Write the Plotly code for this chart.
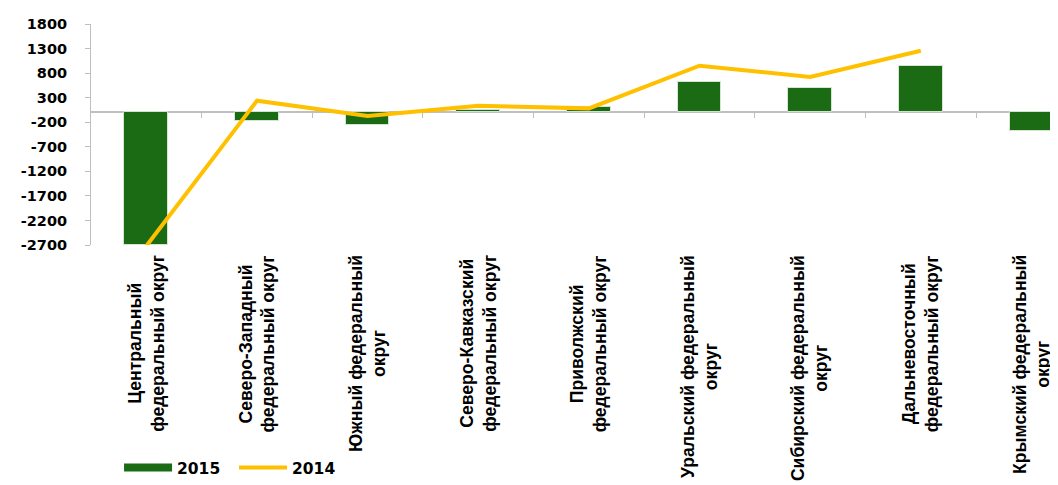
import plotly.graph_objects as go

categories = [
    "Центральный<br>федеральный округ",
    "Северо-Западный<br>федеральный округ",
    "Южный федеральный<br>округ",
    "Северо-Кавказский<br>федеральный округ",
    "Приволжский<br>федеральный округ",
    "Уральский федеральный<br>округ",
    "Сибирский федеральный<br>округ",
    "Дальневосточный<br>федеральный округ",
    "Крымский федеральный<br>округ",
]
values_2015 = [-2700, -169, -263, 43, 104, 625, 491, 945, -372]
values_2014 = [-2720, 238, -73, 136, 82, 951, 721, 1256, None]
y_ticks = [1800, 1300, 800, 300, -200, -700, -1200, -1700, -2200, -2700]

GREEN = "#1a6b14"
GOLD = "#FFC000"
GRAY = "#bfbfbf"

xs = list(range(len(categories)))

fig = go.Figure()
fig.add_trace(go.Bar(
    x=xs, y=values_2015, name="2015", width=0.395,
    marker=dict(color=GREEN, line=dict(color="rgba(220,235,220,0.9)", width=1)),
    showlegend=False, legendgroup="2015", hoverinfo="skip",
))
# legend entry for 2015 (wide swatch like the original)
fig.add_trace(go.Scatter(
    x=[None], y=[None], mode="lines", name="2015", legendgroup="2015",
    line=dict(color=GREEN, width=8),
))
fig.add_trace(go.Scatter(
    x=xs, y=values_2014, name="2014", mode="lines",
    line=dict(color=GOLD, width=4), hoverinfo="skip",
))
# carrier for the category-boundary tick axis on the zero line
fig.add_trace(go.Scatter(
    x=[None], y=[None], xaxis="x2", mode="markers", showlegend=False, hoverinfo="skip",
))

for xi, lab in zip(xs, categories):
    fig.add_annotation(
        x=xi, xref="x", y=-0.036, yref="paper",
        text="<b>" + lab + "</b>", textangle=-90, showarrow=False,
        xanchor="center", yanchor="top", align="center",
        font=dict(family="Liberation Sans, Arial, sans-serif", size=17.6, color="black"),
    )

xrange = [-0.5, 8.24]
fig.update_layout(
    width=1050, height=477,
    margin=dict(l=83, r=0, t=16, b=239),
    paper_bgcolor="white", plot_bgcolor="white",
    bargap=0,
    xaxis=dict(range=xrange, showgrid=False, zeroline=False, showline=False,
               showticklabels=False, ticks=""),
    xaxis2=dict(range=xrange, overlaying="x", anchor="free", position=0.6,
                showgrid=False, zeroline=False, showline=False,
                tickvals=[i + 0.5 for i in range(8)], ticks="outside", ticklen=5,
                tickcolor=GRAY, tickwidth=1, showticklabels=False),
    yaxis=dict(range=[-2700, 1800], tickvals=y_ticks, ticktext=[str(v) for v in y_ticks],
               showgrid=False,
               zeroline=True, zerolinecolor=GRAY, zerolinewidth=2,
               showline=True, linecolor=GRAY, linewidth=1,
               ticks="outside", ticklen=5, tickcolor=GRAY, ticklabelstandoff=15,
               tickfont=dict(family="DejaVu Sans, sans-serif", size=14.5,
                             color="black", weight="bold")),
    legend=dict(orientation="h", x=0.029, y=-1.009, xanchor="left", yanchor="middle",
                itemwidth=48, entrywidth=52,
                font=dict(family="DejaVu Sans, sans-serif", size=15.5, color="black",
                          weight="bold")),
    hovermode=False,
)

fig.write_html("out.html")
